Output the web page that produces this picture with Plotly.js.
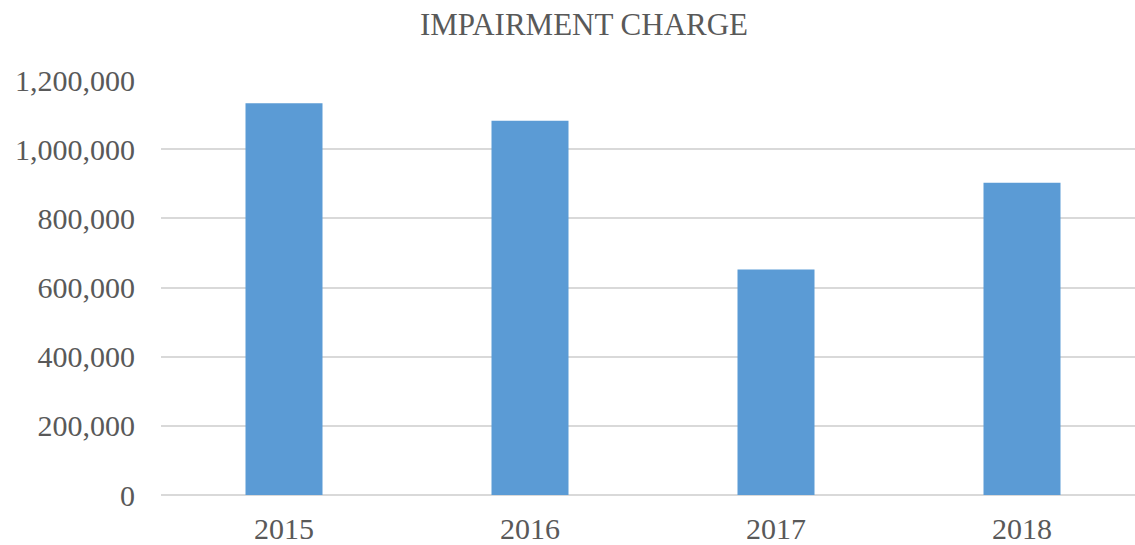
<!DOCTYPE html>
<html>
<head>
<meta charset="utf-8">
<script src="https://cdn.plot.ly/plotly-3.0.1.min.js"></script>
<style>
html,body{margin:0;padding:0;overflow:hidden;background:#fff;}
#chart{width:1150px;height:545px;}
</style>
</head>
<body>
<div id="chart"></div>
<script>
const years = ["2015", "2016", "2017", "2018"];
const impairment = [1133000, 1082000, 652000, 903000];
const yTicks = [0, 200000, 400000, 600000, 800000, 1000000, 1200000];
const yTickLabels = ["0", "200,000", "400,000", "600,000", "800,000", "1,000,000", "1,200,000"];

const fontFamily = "'Liberation Serif', 'Times New Roman', serif";
const textColor = "#595959";

Plotly.newPlot("chart", [{
  type: "bar",
  x: years,
  y: impairment,
  marker: {color: "#5B9BD5"},
  hoverinfo: "x+y"
}], {
  width: 1150,
  height: 545,
  margin: {l: 161, r: 5, t: 80, b: 50},
  paper_bgcolor: "#fff",
  plot_bgcolor: "#fff",
  bargap: 0.687,
  showlegend: false,
  title: {
    text: "IMPAIRMENT CHARGE",
    font: {family: fontFamily, size: 31, color: textColor},
    x: 584 / 1150, xanchor: "center",
    y: 1 - 24 / 545, yanchor: "middle", yref: "container"
  },
  xaxis: {
    type: "category",
    tickfont: {family: fontFamily, size: 30, color: textColor},
    ticks: "outside", ticklen: 7, tickcolor: "rgba(0,0,0,0)",
    showgrid: false, zeroline: false, showline: false
  },
  yaxis: {
    range: [0, 1200000],
    tickvals: yTicks,
    ticktext: yTickLabels,
    tickfont: {family: fontFamily, size: 30, color: textColor},
    ticks: "outside", ticklen: 19, tickcolor: "rgba(0,0,0,0)",
    showgrid: true, gridcolor: "#D9D9D9", gridwidth: 2,
    zeroline: true, zerolinecolor: "#D9D9D9", zerolinewidth: 2,
    showline: false
  }
}, {displayModeBar: false, staticPlot: true});
</script>
</body>
</html>
